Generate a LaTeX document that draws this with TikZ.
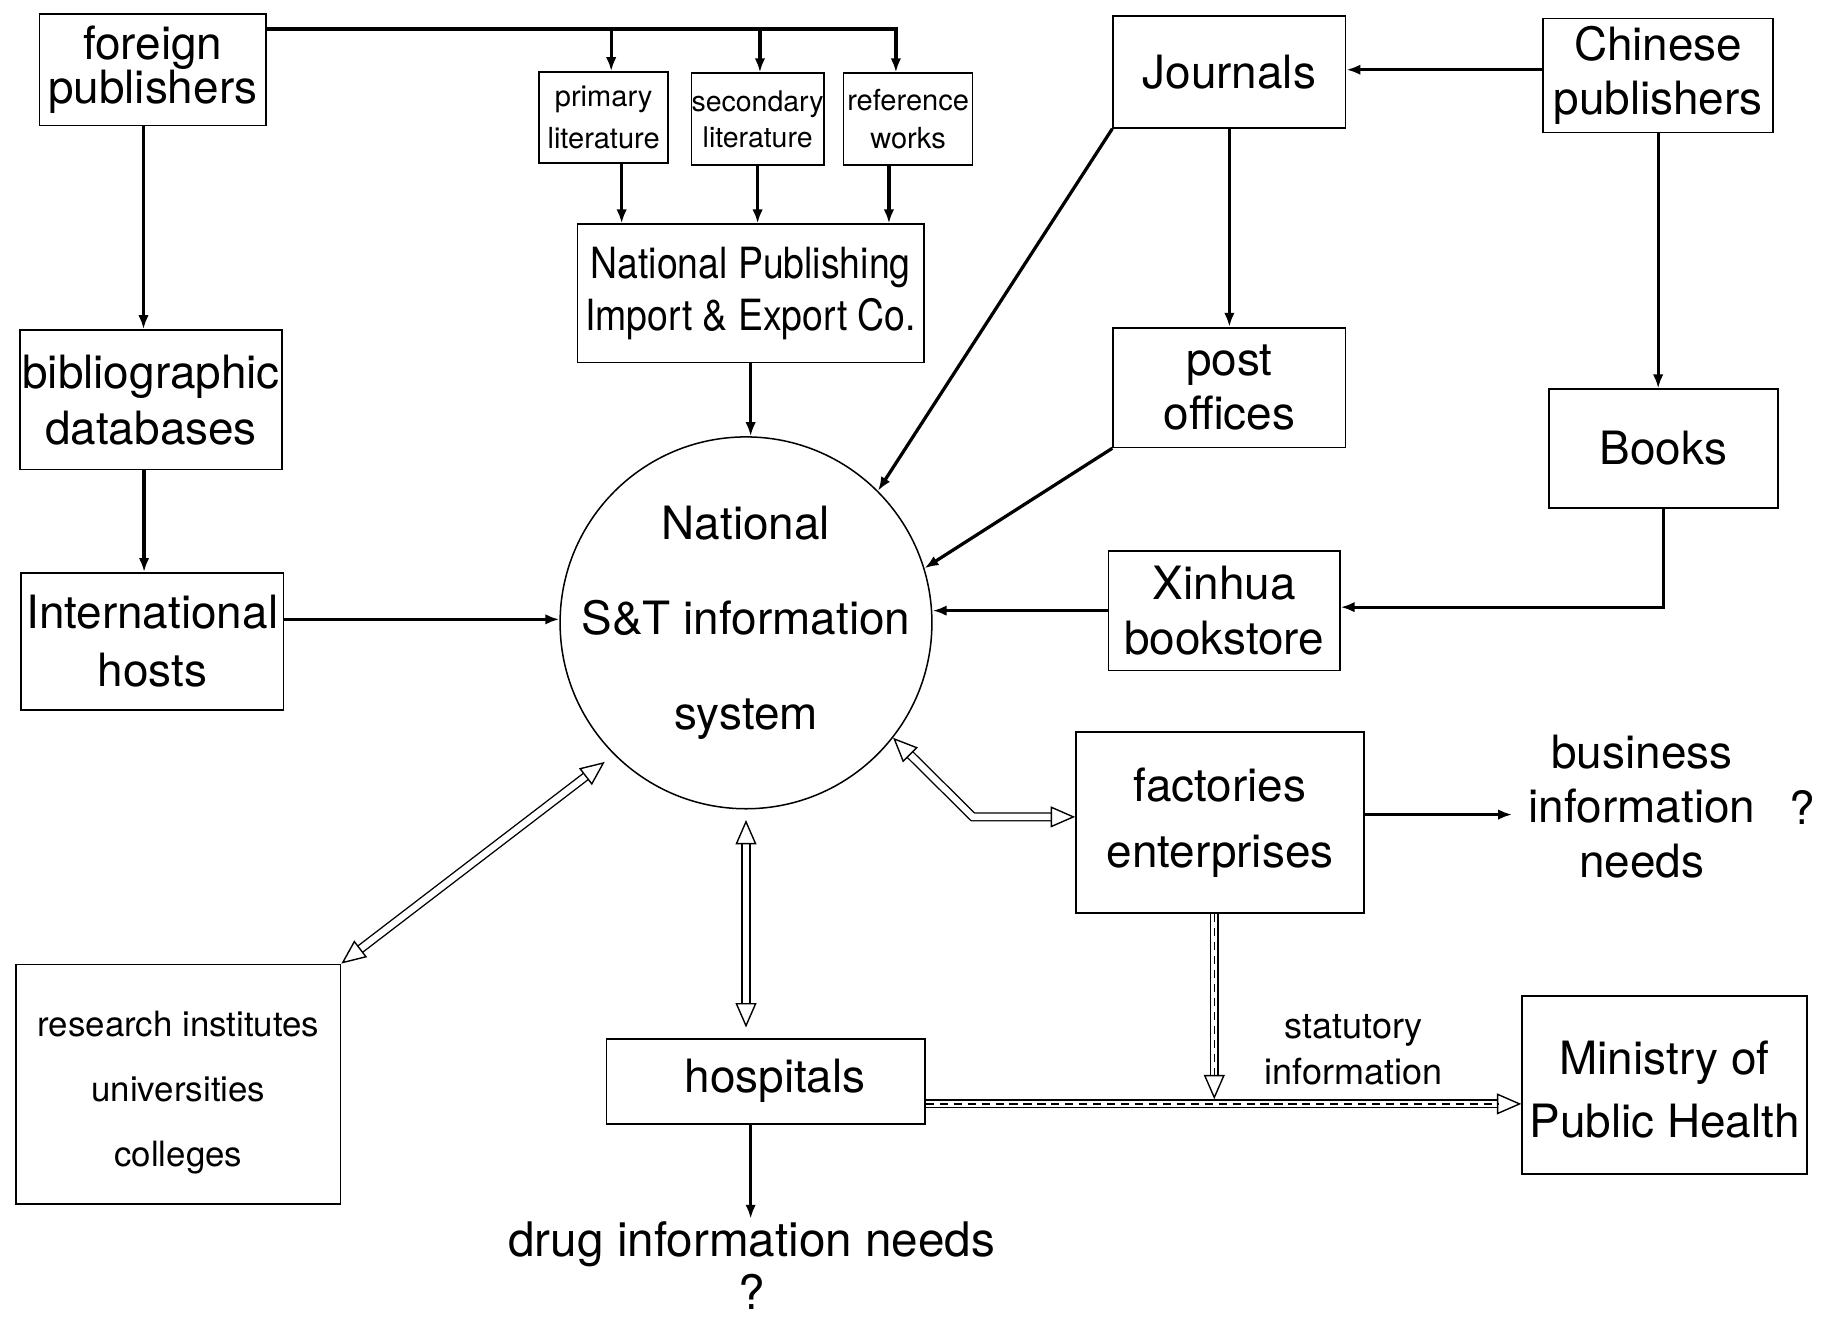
\documentclass[tikz,border=0pt]{standalone}
\usepackage{fontspec}
\setmainfont{TeX Gyre Heros}
\newfontfamily\narrowfont[FakeStretch=0.87]{TeX Gyre Heros}
\usetikzlibrary{arrows.meta}
\newcommand\fs[2]{\fontsize{#1bp}{#2bp}\selectfont}

\begin{document}
\begin{tikzpicture}[x=1bp, y=-1bp,
  box/.style={draw, line width=1.5bp, inner sep=0pt, align=center},
  txt/.style={inner sep=0pt, align=center},
  sz/.style 2 args={minimum width=#1 bp, minimum height=#2 bp},
  arr/.style={line width=2.8bp, -{Latex[length=12bp,width=9bp]}},
  Hol/.tip={Triangle[open, length=21bp, width=18bp, line width=1.2bp]},
  hol/.style={double, double distance=5.5bp, line width=1.2bp},
  hatch/.style={line width=1.3bp, dash pattern=on 7bp off 5bp}]

\fill[white] (0,0) rectangle (1568,1133);
\useasboundingbox (0,0) rectangle (1568,1133);

% boxes and labels
\node[box, sz={195}{96}, font=\fs{39.5}{38}] (foreign) at (131.5,60) {foreign\\publishers};
\node[box, sz={111}{78}, font=\fs{25}{36}] (primary) at (519.5,101) {primary\\literature};
\node[box, sz={112}{79}, font=\fs{24.5}{31}] (secondary) at (652,102.5) {secondary\\literature};
\node[box, sz={111}{79}, font=\fs{25}{32}] (reference) at (781.5,102.5) {reference\\works};
\node[box, sz={298}{119}, font=\narrowfont\fs{37}{45}] (npie) at (646,252.5) {National Publishing\\Import \& Export Co.};
\node[box, sz={226}{120}, font=\fs{39.5}{48}] (biblio) at (130,344) {bibliographic\\databases};
\node[box, sz={226}{118}, font=\fs{39.5}{50}] (intl) at (131,552) {International\\hosts};
\node[box, sz={200}{96}, font=\fs{39.5}{47}] (journals) at (1058,62) {Journals};
\node[box, sz={198}{98}, font=\fs{39.5}{46}] (chinese) at (1427,65) {Chinese\\publishers};
\node[box, sz={200}{103}, font=\fs{39.5}{46}] (post) at (1058,333.5) {post\\offices};
\node[box, sz={197}{102}, font=\fs{39.5}{47}] (books) at (1431.5,386) {Books};
\node[box, sz={199}{103}, font=\fs{39.5}{47}] (xinhua) at (1053.5,525.5) {Xinhua\\bookstore};
\node[draw, circle, line width=1.3bp, minimum size=320bp, inner sep=0pt] (circ) at (642,536) {};
\node[txt, font=\fs{39.5}{82}] (circtext) at (circ.center) {National\\S\&T information\\system};
\node[box, sz={248}{156}, font=\fs{39.5}{57}] (factories) at (1050,708) {factories\\enterprises};
\node[align=center, inner sep=14bp, font=\fs{39.5}{47}] (business) at (1413,694) {business\\information\\needs};
\node[txt, font=\fs{39.5}{47}] (bq) at (1551,695) {?};
\node[box, sz={279}{206}] (research) at (153.5,933) {};
\node[txt, font=\fs{30}{56}] (researchtext) at ([yshift=-7bp]research.center) {research institutes\\universities\\colleges};
\node[box, sz={274}{73}] (hospitals) at (659,930.5) {};
\node[txt, font=\fs{39.5}{47}] (hospitalstext) at ([xshift=8bp]hospitals.center) {hospitals};
\node[box, sz={245}{153}] (ministry) at (1432.5,933.5) {};
\node[txt, font=\fs{39.5}{54}] (ministrytext) at ([yshift=-4bp]ministry.center) {Ministry of\\Public Health};
\node[align=center, inner sep=2bp, font=\fs{41}{46}] (drug) at (647,1089) {drug information needs\\?};
\node[txt, font=\fs{31}{39}] (stat) at (1165,903.5) {statutory\\information};

% helper points for offset connectors
\coordinate (bus) at (0,25);
\coordinate (pa) at ([xshift=6.5bp]primary.north);
\coordinate (sa) at ([xshift=2bp]secondary.north);
\coordinate (ra) at ([xshift=-10.5bp]reference.north);
\coordinate (pb) at ([xshift=15.5bp]primary.south);
\coordinate (rb) at ([xshift=-16.5bp]reference.south);
\coordinate (fs) at ([xshift=-8bp]foreign.south);
\coordinate (bs) at ([xshift=-6bp]biblio.south);
\coordinate (ie) at ([yshift=19bp]intl.east);
\coordinate (cw) at ([yshift=5bp]chinese.west);
\coordinate (xe) at ([yshift=3bp]xinhua.east);
\coordinate (fe) at ([yshift=7bp]factories.east);
\coordinate (hs) at ([xshift=-13bp]hospitals.south);
\coordinate (fa) at ([yshift=5bp]factories.west);
\coordinate (fk) at ([xshift=-88bp]fa);
\coordinate (ha) at ([yshift=-19.5bp]hospitals.east);
\coordinate (fb) at ([xshift=-5bp]factories.south);

% foreign publishers to the three kinds of literature
\draw[arr] (foreign.east |- bus) -| (ra);
\draw[arr] (pa |- bus) -- (pa);
\draw[arr] (sa |- bus) -- (sa);
\draw[arr] (pb) -- (pb |- npie.north);
\draw[arr] (secondary.south) -- (secondary.south |- npie.north);
\draw[arr] (rb) -- (rb |- npie.north);
\draw[arr] (npie.south) -- (npie.south |- circ.north);

% left column
\draw[arr] (fs) -- (fs |- biblio.north);
\draw[arr] (bs) -- (bs |- intl.north);
\draw[arr] (ie) -- (ie -| circ.west);

% right side channels
\draw[arr] (journals.south west) -- (circ.45);
\draw[arr] (journals.south) -- (journals.south |- post.north);
\draw[arr] (cw) -- (cw -| journals.east);
\draw[arr] (chinese.south) -- (chinese.south |- books.north);
\draw[arr] (post.south west) -- (circ.17);
\draw[arr] (books.south) |- (xe);
\draw[arr] (xinhua.west) -- (xinhua.west -| circ.east);
\draw[arr] (fe) -- (fe -| business.west);
\draw[arr] (hs) -- (hs |- drug.north);

% two-way exchanges with the information system
\draw[hol, Hol-Hol, shorten >=10bp] (research.north east) -- (circ.-135);
\draw[hol, Hol-Hol, shorten <=9bp, shorten >=9bp] (circ.south) -- (circ.south |- hospitals.north);
\draw[hol, Hol-Hol] (circ.-38) -- (fk) -- (fa);

% statutory information flow
\draw[hol, -Hol] (ha) -- (ha -| ministry.west);
\draw[hatch, shorten >=20bp] (ha) -- (ha -| ministry.west);
\draw[hol, -Hol, shorten >=4bp] (fb) -- (fb |- ha);
\draw[hatch, shorten >=25bp] (fb) -- (fb |- ha);
\end{tikzpicture}
\end{document}
